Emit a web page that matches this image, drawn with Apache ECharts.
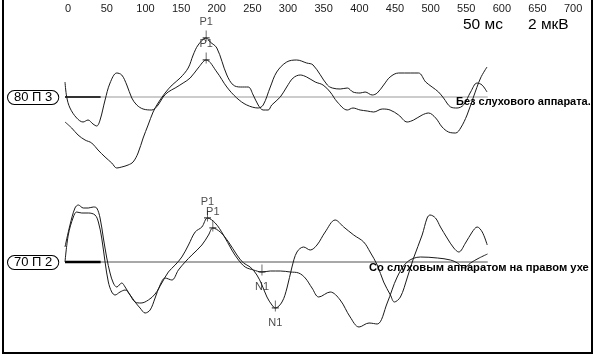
<!DOCTYPE html>
<html><head><meta charset="utf-8">
<script src="https://cdn.jsdelivr.net/npm/echarts@6/dist/echarts.min.js"></script>
<style>html,body{margin:0;padding:0;background:#fff}#c{width:597px;height:358px}</style>
</head><body><div id="c"></div>
<script>
// time ticks (ms) shown along the top
var tickLabels = [0,50,100,150,200,250,300,350,400,450,500,550,600,650,700];
// Top panel: without hearing aid (80 П 3) — [ms, µV]
var noAidA = [[0,1.5],[2.4,0.0],[7,-1.1],[16.4,-2.1],[25.3,-2.5],[32.3,-2.3],[39.3,-2.7],[44.5,-2.9],[49.2,-2.3],[56.2,-0.3],[63.2,1.4],[72.6,2.4],[79.6,2.2],[86.7,1.2],[93.7,-0.1],[100.7,-0.8],[109.6,-1.2],[121.8,-1.3],[130.6,-0.8],[137.6,0.0],[144.7,0.5],[154.5,0.9],[165.7,1.4],[175.6,1.9],[186.8,2.9],[198,3.7],[213,2.5],[227,1.0],[241,-0.1],[255,-0.8],[271,-1.1],[278,-0.8],[288,1.0],[297,2.5],[311,3.5],[325,3.7],[339,3.4],[348,3.2],[368,1.2],[375,0.9],[386,0.8],[396,0.9],[404,0.5],[414,0.4],[421,0.5],[431,0.2],[438,0.4],[447,1.2],[456,2.0],[468,2.4],[485,2.4],[496,2.4],[506,1.5],[515,1.0],[524,0.5],[531,-0.1],[541,-1.0],[550,-1.1],[559,-0.8],[569,0.5],[578,1.4],[585,1.2],[592,0.5]];
var noAidB = [[0,-2.5],[9.4,-3.1],[18.3,-3.8],[28.1,-4.3],[37.5,-4.6],[46.3,-5.3],[56.2,-6.0],[65.6,-6.6],[72.6,-7.1],[79.6,-7.0],[88.5,-6.8],[95.5,-6.5],[102.5,-5.6],[109.6,-4.1],[116.6,-2.8],[123.6,-1.5],[130.6,-0.6],[140.4,0.4],[150.3,1.2],[161.5,1.9],[172.8,2.9],[179.8,4.2],[186.8,5.2],[198,5.9],[203.7,5.5],[213,4.9],[227,2.2],[236,1.2],[246,1.0],[257,1.0],[264,0.2],[271,-0.8],[278,-1.3],[285,-1.3],[290,-0.8],[302,0.0],[311,1.0],[320,1.9],[330,2.2],[339,2.0],[351,1.5],[362,1.2],[372,0.5],[382,-0.5],[396,-1.3],[404,-1.1],[414,-1.3],[424,-1.4],[433,-1.5],[445,-1.2],[456,-1.3],[468,-1.8],[480,-2.5],[489,-2.3],[501,-1.8],[510,-1.6],[520,-2.1],[529,-3.0],[538,-3.5],[548,-3.6],[555,-3.1],[564,-1.8],[573,0.0],[583,1.9],[592,3.0]];
// Bottom panel: with hearing aid on right ear (70 П 2)
var aidC = [[0,1.5],[7,3.7],[14,5.4],[18.7,5.7],[25.7,5.4],[32.7,5.4],[39.7,5.5],[44.5,5.4],[49.2,4.4],[53.8,2.4],[58.6,0.4],[63.2,-1.1],[67.8,-2.1],[72.6,-2.5],[79.6,-2.1],[84.3,-2.5],[91.3,-3.3],[98.3,-4.0],[106.7,-4.1],[117,-3.8],[126.4,-3.2],[135.8,-2.1],[145,-1.0],[154.5,-0.3],[163.9,0.5],[173.2,1.7],[182.6,3.0],[192,3.5],[199.9,4.4],[210.7,3.9],[222.3,2.7],[234,1.2],[243.4,0.2],[252.8,-0.5],[264.5,-0.8],[276.3,-1.0],[288,-0.9],[302,-0.9],[316,-1.0],[327.7,-1.1],[337,-1.6],[346.5,-2.6],[356,-3.5],[372,-3.0],[386,-3.8],[400,-5.5],[412.5,-6.5],[426.5,-6.1],[438,-6.2],[452,-4.1],[466,-1.5],[480,0.0],[498.6,0.5],[522.5,0.4],[540.7,0.2],[550.6,-0.1],[560,-0.6],[568.8,-0.1],[581,0.4],[592.7,0.8]];
var aidD = [[0,0.0],[4.6,2.7],[11.7,4.5],[16.4,5.0],[23.5,4.9],[32.7,4.9],[42.1,4.7],[46.8,4.0],[51.5,2.4],[56.2,0.0],[60.8,-2.0],[65.6,-3.0],[70.2,-3.3],[77.2,-3.0],[84.3,-2.8],[91.3,-3.3],[98.3,-4.0],[105.3,-4.6],[112.4,-5.1],[119.4,-4.8],[126.4,-3.6],[133.4,-2.3],[140.4,-1.6],[149.9,-1.8],[159.1,-0.8],[168.5,0.0],[178,0.7],[192,1.7],[201.3,2.7],[207.4,3.4],[217.7,3.0],[229.4,2.0],[241.2,0.7],[250.4,-0.1],[259.8,-0.5],[269.2,-1.3],[276.3,-2.3],[283.3,-3.5],[290.3,-4.3],[295,-4.6],[304.4,-4.0],[311.4,-2.6],[318.4,-0.5],[325.4,1.0],[334.7,1.5],[344,1.2],[353.5,1.7],[365,3.0],[379,4.2],[391,3.5],[405,2.7],[419,2.0],[428,1.0],[438,-0.3],[447,-2.0],[456.5,-3.3],[462,-4.0],[470.5,-3.5],[480,-1.6],[489,0.4],[501,2.7],[508,4.4],[512,4.7],[519.7,4.4],[526.7,3.5],[536,2.4],[545.4,1.4],[552.4,1.0],[561.8,1.9],[571.2,3.0],[578.2,3.5],[585.3,3.0],[592.3,1.7]];
// Peak markers [ms, µV]
var topP1 = [[198,5.9],[198,3.7]];
var botP1 = [[199.9,4.4],[207.4,3.4]];
var botN1 = [[276.3,-1.0],[295,-4.6]];
var baselineSpan = [0, 593];
var preStim = [0, 50];

var chart = echarts.init(document.getElementById('c'), null, {renderer:'canvas'});
var ink = '#1a1a1a';
function trace(data, g){return {type:'line', xAxisIndex:g, yAxisIndex:g, data:data, smooth:0.35, symbol:'none', lineStyle:{color:ink, width:1}, z:3, animation:false};}
function hline(span, g, color, w, z){return {type:'line', xAxisIndex:g, yAxisIndex:g, data:[[span[0],0],[span[1],0]], symbol:'none', lineStyle:{color:color, width:w}, z:z, animation:false};}
var plus = 'path://M4,0 L4,12 M0,8 L8,8';
function marks(data, g, name, pos){return {type:'scatter', xAxisIndex:g, yAxisIndex:g, data:data, symbol:plus, symbolSize:[7,11], symbolOffset:[0,-2],
  itemStyle:{color:'none', borderColor:ink, borderWidth:1}, z:5, animation:false,
  label:{show:true, formatter:name, position:pos, distance:pos==='top'?0:3, color:ink, fontSize:11, fontFamily:'Liberation Sans, Arial'}};}

chart.setOption({
  backgroundColor:'#fff',
  animation:false,
  grid:[{left:65, right:33, top:17, height:160},{left:65, right:33, top:182, height:160}],
  xAxis:[
    {type:'value', gridIndex:0, min:0, max:700, interval:50, position:'top',
     axisLine:{show:false}, axisTick:{show:false}, splitLine:{show:false},
     axisLabel:{show:true, align:'left', margin:3, color:ink, fontSize:11, fontFamily:'Liberation Sans, Arial',
       formatter:function(v){return tickLabels.indexOf(v)>=0 ? String(v) : '';}}},
    {type:'value', gridIndex:1, min:0, max:700, interval:50, show:false}
  ],
  yAxis:[
    {type:'value', gridIndex:0, min:-8, max:8, show:false},
    {type:'value', gridIndex:1, min:-8, max:8, show:false}
  ],
  series:[
    hline(baselineSpan,0,'#999',1,1), hline(preStim,0,'#000',1.3,2),
    hline(baselineSpan,1,'#a8a8a8',2,1), hline(preStim,1,'#000',2.5,2),
    trace(noAidA,0), trace(noAidB,0), trace(aidC,1), trace(aidD,1),
    marks(topP1,0,'P1','top'), marks(botP1,1,'P1','top'), marks(botN1,1,'N1','bottom')
  ],
  graphic:[
    {type:'polyline', shape:{points:[[3,0],[3,353],[592,353],[592,0]]}, style:{stroke:'#000', lineWidth:2, fill:null}, silent:true},
    {type:'text', left:7, top:90, z:10, style:{text:'80 П 3', font:'13px Liberation Sans, Arial', fill:'#000', backgroundColor:'#fff', borderColor:'#000', borderWidth:1, borderRadius:7, padding:[0,6]}},
    {type:'text', left:7, top:255, z:10, style:{text:'70 П 2', font:'13px Liberation Sans, Arial', fill:'#000', backgroundColor:'#fff', borderColor:'#000', borderWidth:1, borderRadius:7, padding:[0,6]}},
    {type:'text', left:463, top:17, style:{text:'50 мс', font:'15.5px Liberation Sans, Arial', fill:'#000'}},
    {type:'text', left:528, top:17, style:{text:'2 мкВ', font:'15.5px Liberation Sans, Arial', fill:'#000'}},
    {type:'text', left:456, top:96, z:10, style:{text:'Без слухового аппарата.', font:'bold 11px Liberation Sans, Arial', fill:'#000'}},
    {type:'text', left:369, top:262, z:10, style:{text:'Со слуховым аппаратом на правом ухе', font:'bold 11.2px Liberation Sans, Arial', fill:'#000'}}
  ]
});
</script></body></html>
